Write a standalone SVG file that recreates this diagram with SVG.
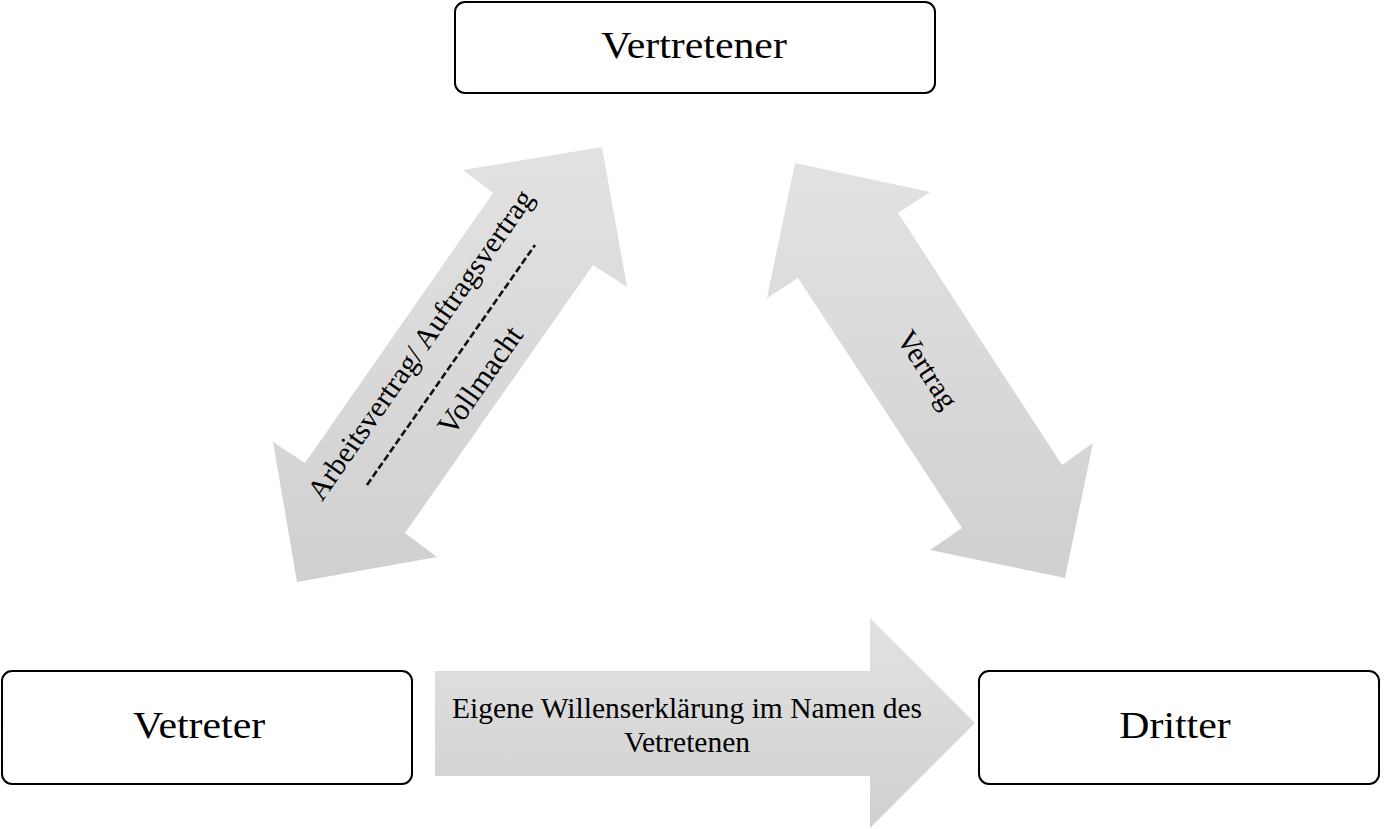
<svg xmlns="http://www.w3.org/2000/svg" width="1384" height="829" viewBox="0 0 1384 829">
<defs>
<linearGradient id="g" x1="0" y1="0" x2="0" y2="1">
<stop offset="0" stop-color="#e2e2e2"/>
<stop offset="1" stop-color="#d0d0d0"/>
</linearGradient>
<style>
.box{fill:#fff;stroke:#000;stroke-width:2}
.big{font-family:"Liberation Serif","Times New Roman",serif;font-size:38px;fill:#000;text-anchor:middle}
.lbl{font-family:"Liberation Serif","Times New Roman",serif;font-size:29.5px;fill:#000;text-anchor:middle}
.arr{fill:url(#g);stroke:none}
</style>
</defs>
<rect width="1384" height="829" fill="#fff"/>
<g id="connectors">
<g id="arrow-left">
<polygon class="arr" points="602,147 627,287 593,265 405,533 437,557 297,582 273,442 305,463 493,193 463,170"/>
<line x1="367" y1="485" x2="535" y2="245" stroke="#111" stroke-width="2.6" stroke-dasharray="7 3"/>
<text class="lbl" transform="translate(421,345) rotate(-55)" y="9">Arbeitsvertrag/ Auftragsvertrag</text>
<text class="lbl" transform="translate(481,381) rotate(-55)" y="9" style="font-size:30.5px">Vollmacht</text>
</g>
<g id="arrow-right">
<polygon class="arr" points="795,163 930,192 898,213 1062,465 1093,443 1065,578 930,550 962,528 798,278 767,298"/>
<text class="lbl" transform="translate(927,370) rotate(57)" y="9">Vertrag</text>
</g>
<g id="arrow-bottom">
<polygon class="arr" points="435,671 870,671 870,618 975,723 870,828 870,776 435,776"/>
<text class="lbl" x="687" y="718">Eigene Willenserklärung im Namen des</text>
<text class="lbl" x="687" y="752">Vetretenen</text>
</g>
</g>
<g id="node-vertretener">
<rect class="box" x="455" y="2" width="480" height="91" rx="10"/>
<text class="big" transform="translate(694,58) scale(1.1,1)">Vertretener</text>
</g>
<g id="node-vetreter">
<rect class="box" x="2" y="671" width="410" height="113" rx="10"/>
<text class="big" transform="translate(199,738) scale(1.1,1)">Vetreter</text>
</g>
<g id="node-dritter">
<rect class="box" x="979" y="671" width="400" height="113" rx="10"/>
<text class="big" transform="translate(1175,738) scale(1.1,1)">Dritter</text>
</g>
</svg>
